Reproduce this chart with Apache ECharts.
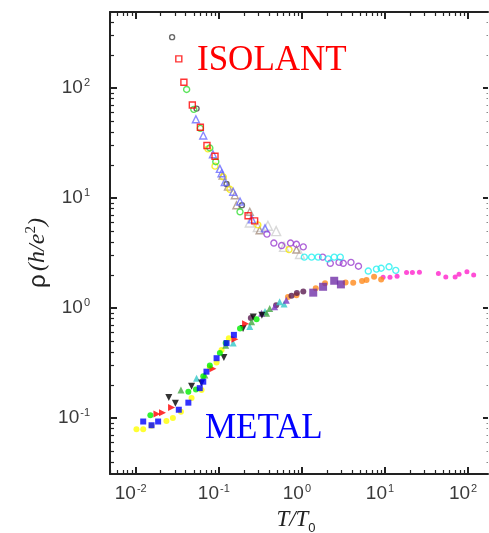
<!DOCTYPE html>
<html><head><meta charset="utf-8">
<script src="https://cdn.jsdelivr.net/npm/echarts@6/dist/echarts.min.js"></script>
<style>html,body{margin:0;padding:0;background:#fff}#c{width:489px;height:533px}</style>
</head><body><div id="c"></div>
<script>
// ---------- axis ranges & ticks ----------
const X_MIN = 0.0049, X_MAX = 174, Y_MIN = 0.031, Y_MAX = 491;
const xMajorTicks = [0.01, 0.1, 1, 10, 100];
const yMajorTicks = [0.1, 1, 10, 100];
const xLabelValues = [0.01, 0.1, 1, 10, 100];
const yLabelValues = [0.1, 1, 10, 100];
const minorMultipliers = [2, 3, 4, 5, 6, 7, 8, 9];

// ---------- insulating branch (ISOLANT) ----------
const isoBlackCircle = [[0.0274, 290], [0.054, 65], [0.124, 13.4], [0.19, 8.6]];
const isoRedSquare = [[0.033, 184], [0.038, 113], [0.048, 70], [0.060, 44], [0.072, 30], [0.090, 24], [0.225, 6.9], [0.27, 6.2]];
const isoGreenCircle = [[0.041, 97], [0.050, 64], [0.060, 43], [0.078, 28.5], [0.092, 21.4], [0.18, 7.5]];
const isoBlueTriangle = [[0.053, 52], [0.065, 37], [0.085, 25], [0.103, 18.4], [0.108, 16.8], [0.118, 14], [0.149, 11.4], [0.18, 9.3], [0.25, 6.4], [0.36, 5.3]];
const isoYellowCircle = [[0.074, 28], [0.09, 19.5], [0.113, 15.6], [0.136, 12], [0.295, 5.7], [0.70, 3.4]];
const isoBrownTriangle = [[0.111, 16], [0.129, 12.7], [0.156, 10.6], [0.163, 8.6], [0.236, 7.5], [0.31, 5.1], [0.86, 3.4]];
const isoGrayTriangle = [[0.236, 6.0], [0.295, 5.45], [0.39, 5.6], [0.49, 5.0], [0.61, 3.6], [0.95, 3.1]];
const isoPurpleCircle = [[0.38, 4.7], [0.46, 3.9], [0.57, 3.7], [0.73, 3.9], [0.86, 3.8], [1.04, 3.6], [1.78, 2.9], [2.2, 2.55], [2.8, 2.6], [3.15, 2.55], [3.9, 2.6], [4.8, 2.4]];
const isoCyanCircle = [[1.07, 2.9], [1.31, 2.9], [1.57, 2.9], [2.07, 2.8], [2.45, 2.9], [2.9, 2.9], [6.3, 2.17], [7.9, 2.26], [9.0, 2.3], [11.2, 2.37], [13.5, 2.2]];
const magentaDot = [[9.5, 1.9], [11.5, 1.9], [14, 1.95], [18.2, 2.1], [21.4, 2.1], [26, 2.12], [44, 2.06], [54, 1.91], [70, 1.91], [78, 2.03], [97, 2.14], [117, 2.0]];

// ---------- metallic branch (METAL) ----------
const metOrangeDot = [[0.68, 1.26], [0.86, 1.31], [1.47, 1.51], [1.9, 1.68], [3.36, 1.71], [4.15, 1.70], [5.3, 1.76], [6.0, 1.80], [7.4, 1.93], [9.0, 1.82]];
const metPurpleSquare = [[1.37, 1.38], [1.8, 1.56], [2.45, 1.77], [2.95, 1.64]];
const metPlumDot = [[0.243, 0.81], [0.49, 1.06], [0.75, 1.29], [0.87, 1.37], [1.04, 1.41]];
const metYellowDot = [[0.0102, 0.079], [0.0123, 0.079], [0.0155, 0.085], [0.0234, 0.094], [0.028, 0.100], [0.035, 0.114], [0.047, 0.152], [0.062, 0.18], [0.078, 0.29], [0.094, 0.32], [0.108, 0.415], [0.132, 0.53]];
const metBlueSquare = [[0.0123, 0.093], [0.0155, 0.086], [0.0186, 0.093], [0.033, 0.119], [0.043, 0.138], [0.059, 0.187], [0.065, 0.214], [0.071, 0.264], [0.094, 0.35], [0.124, 0.48], [0.152, 0.57]];
const metGreenDot = [[0.015, 0.106], [0.043, 0.173], [0.053, 0.182], [0.065, 0.24], [0.078, 0.30], [0.103, 0.39], [0.121, 0.48], [0.18, 0.65], [0.285, 0.79]];
const metRedRightTri = [[0.018, 0.109], [0.021, 0.112], [0.027, 0.125], [0.085, 0.28], [0.156, 0.52], [0.21, 0.72]];
const metBlackDownTri = [[0.025, 0.154], [0.030, 0.136], [0.047, 0.195], [0.062, 0.208], [0.115, 0.356], [0.196, 0.65], [0.26, 0.83], [0.33, 0.86]];
const metOliveTri = [[0.035, 0.18], [0.068, 0.246], [0.121, 0.46], [0.248, 0.75], [0.376, 0.895], [0.41, 0.99]];
const metCyanTri = [[0.054, 0.23], [0.149, 0.48], [0.236, 0.68], [0.36, 0.93], [0.54, 1.14], [0.61, 1.09]];
const metVioletTri = [[0.327, 0.895], [0.47, 1.03], [0.65, 1.18]];

// ---------- styles ----------
const seriesDefs = [
  { data: isoGrayTriangle,  symbol: 'triangle', size: 9, color: '#cfcfcf', hollow: true },
  { data: isoBrownTriangle, symbol: 'triangle', size: 7, color: '#a89080', hollow: true },
  { data: isoBlackCircle,   symbol: 'circle',   size: 5, color: '#444444', hollow: true },
  { data: isoYellowCircle,  symbol: 'circle',   size: 6, color: '#f5e800', hollow: true },
  { data: isoBlueTriangle,  symbol: 'triangle', size: 7, color: '#6a6aff', hollow: true },
  { data: isoGreenCircle,   symbol: 'circle',   size: 6, color: '#33dd33', hollow: true },
  { data: isoRedSquare,     symbol: 'rect',     size: 6, color: '#ff0000', hollow: true },
  { data: isoPurpleCircle,  symbol: 'circle',   size: 6, color: '#9b3fd0', hollow: true },
  { data: isoCyanCircle,    symbol: 'circle',   size: 6, color: '#22f0f0', hollow: true },
  { data: magentaDot,       symbol: 'circle',   size: 5, color: '#ff22cc', hollow: false },
  { data: metOrangeDot,     symbol: 'circle',   size: 6, color: '#ff8a1c', hollow: false },
  { data: metPurpleSquare,  symbol: 'rect',     size: 8, color: '#7030a8', hollow: false },
  { data: metPlumDot,       symbol: 'circle',   size: 6, color: '#5a1a50', hollow: false },
  { data: metYellowDot,     symbol: 'circle',   size: 6, color: '#ffff00', hollow: false },
  { data: metCyanTri,       symbol: 'triangle', size: 7, color: '#33c8c8', hollow: false },
  { data: metOliveTri,      symbol: 'triangle', size: 7, color: '#44a844', hollow: false },
  { data: metVioletTri,     symbol: 'triangle', size: 7, color: '#7a3ac0', hollow: false },
  { data: metBlackDownTri,  symbol: 'triangle', size: 7, color: '#000000', hollow: false, rotate: 180 },
  { data: metRedRightTri,   symbol: 'triangle', size: 7, color: '#ff0000', hollow: false, rotate: -90 },
  { data: metGreenDot,      symbol: 'circle',   size: 6, color: '#00ee00', hollow: false },
  { data: metBlueSquare,    symbol: 'rect',     size: 6, color: '#0000ff', hollow: false }
];

function minorTicks(lo, hi) {
  const out = [];
  for (let e = Math.floor(Math.log10(lo)); e <= Math.ceil(Math.log10(hi)); e++) {
    minorMultipliers.forEach(m => { const v = m * Math.pow(10, e); if (v > lo && v < hi) out.push(v); });
  }
  return out;
}
const xMinorTicks = minorTicks(X_MIN, X_MAX);
const yMinorTicks = minorTicks(Y_MIN, Y_MAX);

function powLabel(v) {
  const e = Math.round(Math.log10(v));
  return '{b|10}{s|' + (e < 0 ? '-' + (-e) : e) + '}';
}
const labelRich = {
  b: { fontFamily: 'Liberation Sans', fontSize: 19, color: '#3a3a3a', lineHeight: 22 },
  s: { fontFamily: 'Liberation Sans', fontSize: 11, color: '#3a3a3a', verticalAlign: 'top', lineHeight: 22, padding: [0, 0, 0, 1] }
};
const lineStyle = { color: '#222', width: 2 };

function axis(kind, position, majorOrMinor, opts) {
  const isX = kind === 'x';
  const major = majorOrMinor === 'major';
  const vals = isX ? (major ? xMajorTicks : xMinorTicks) : (major ? yMajorTicks : yMinorTicks);
  const a = {
    type: 'log', logBase: 10, position: position,
    min: isX ? X_MIN : Y_MIN, max: isX ? X_MAX : Y_MAX,
    splitLine: { show: false },
    axisLine: { show: false, onZero: false },
    axisTick: { show: true, inside: true, customValues: vals, length: major ? 7 : 4, lineStyle: { color: '#222', width: major ? 2 : 1.2 } },
    axisLabel: { show: false },
    silent: true
  };
  return Object.assign(a, opts || {});
}

const xAxes = [
  axis('x', 'bottom', 'major', {
    axisLine: { show: true, onZero: false, lineStyle: lineStyle },
    axisLabel: { show: true, customValues: xLabelValues, formatter: powLabel, rich: labelRich, margin: 9, padding: [0, 10, 0, 0] },
    name: '{t|T}{t|/}{t|T}{sub|0}', nameLocation: 'middle', nameGap: 28,
    nameTextStyle: { padding: [0, 6, 0, 0], rich: {
      t: { fontFamily: 'Liberation Serif', fontStyle: 'italic', fontSize: 23, color: '#222', lineHeight: 26 },
      sub: { fontFamily: 'Liberation Sans', fontSize: 13, color: '#222', verticalAlign: 'bottom', lineHeight: 30 }
    } }
  }),
  axis('x', 'bottom', 'minor'),
  axis('x', 'top', 'major', { axisLine: { show: true, onZero: false, lineStyle: lineStyle } }),
  axis('x', 'top', 'minor')
];
const yAxes = [
  axis('y', 'left', 'major', {
    axisLine: { show: true, onZero: false, lineStyle: lineStyle },
    axisLabel: { show: true, customValues: yLabelValues, formatter: powLabel, rich: labelRich, margin: 20 }
  }),
  axis('y', 'left', 'minor'),
  axis('y', 'right', 'major', { axisTick: { show: true, inside: true, customValues: yMajorTicks, length: 5, lineStyle: { color: '#222', width: 2 } } }),
  axis('y', 'right', 'minor', { axisTick: { show: true, inside: true, customValues: yMinorTicks, length: 1.5, lineStyle: { color: '#888', width: 1 } } })
];

const series = seriesDefs.map(d => ({
  type: 'scatter', xAxisIndex: 0, yAxisIndex: 0,
  data: d.data, symbol: d.symbol, symbolSize: d.size, symbolRotate: d.rotate || 0,
  itemStyle: d.hollow ? { color: 'rgba(255,255,255,0)', borderColor: d.color, borderWidth: 1.4 } : { color: d.color, borderWidth: 0 },
  emphasis: { disabled: true }, silent: true, animation: false
}));

const chart = echarts.init(document.getElementById('c'), null, { renderer: 'canvas' });
chart.setOption({
  backgroundColor: '#fff',
  animation: false,
  grid: { left: 110, right: 1, top: 12, bottom: 59, containLabel: false, outerBoundsMode: 'none' },
  xAxis: xAxes,
  yAxis: yAxes,
  series: series,
  graphic: [
    { type: 'text', left: 197, top: 43, style: { text: 'ISOLANT', fontFamily: 'Liberation Serif', fontSize: 35, fill: '#ff0000' } },
    { type: 'text', left: 205, top: 411, style: { text: 'METAL', fontFamily: 'Liberation Serif', fontSize: 35, fill: '#0000ff' } },
    { type: 'text', x: 38, y: 253, rotation: Math.PI / 2, style: {
        text: '{r|ρ} {i|(h/e}{s|2}{i|)}', align: 'center', verticalAlign: 'middle',
        rich: {
          r: { fontFamily: 'Liberation Sans', fontSize: 24, fill: '#222', lineHeight: 28 },
          i: { fontFamily: 'Liberation Serif', fontStyle: 'italic', fontSize: 24, fill: '#222', lineHeight: 28 },
          s: { fontFamily: 'Liberation Serif', fontSize: 15, fill: '#222', verticalAlign: 'top', lineHeight: 28 }
        } } }
  ]
});
</script></body></html>
